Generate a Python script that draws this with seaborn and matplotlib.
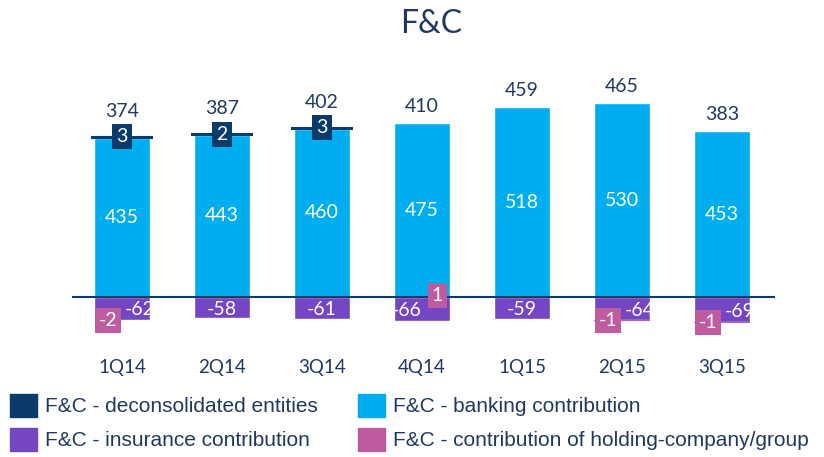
import matplotlib
matplotlib.use("Agg")
import matplotlib.pyplot as plt
from matplotlib.patches import Patch
import seaborn as sns
import numpy as np
import pandas as pd

# data
quarters = ['1Q14', '2Q14', '3Q14', '4Q14', '1Q15', '2Q15', '3Q15']
deconsolidated = [3, 2, 3, 0, 0, 0, 0]
banking = [435, 443, 460, 475, 518, 530, 453]
insurance = [-62, -58, -61, -66, -59, -64, -69]
holding = [-2, 0, 0, 1, 0, -1, -1]
totals = [374, 387, 402, 410, 459, 465, 383]

NAVY = '#0b3b6b'
CYAN = '#00aeef'
PURPLE = '#7446c3'
PINK = '#bf5b9f'
TXT = '#1f3864'

sns.set_theme(style="white")
plt.rcParams['font.family'] = ['Lato', 'DejaVu Sans']

df = pd.DataFrame({'quarter': quarters, 'banking': banking, 'insurance': insurance})

fig = plt.figure(figsize=(8.24, 4.57), dpi=100)
ax = fig.add_axes([72 / 824, 1 - 341 / 457, 703 / 824, (341 - 77.4) / 457])

sns.barplot(data=df, x='quarter', y='banking', color=CYAN, saturation=1, width=0.56, ax=ax)
sns.barplot(data=df, x='quarter', y='insurance', color=PURPLE, saturation=1, width=0.56, ax=ax)

x = np.arange(len(quarters))
dec = np.array(deconsolidated)
ax.bar(x[dec > 0], dec[dec > 0], bottom=np.array(banking)[dec > 0], width=0.6,
       color=NAVY, edgecolor=NAVY, linewidth=1.5)
hold = np.array(holding)
hold_bottom = np.where(hold < 0, np.array(insurance), 0)
ax.bar(x, hold, bottom=hold_bottom, width=0.56, color=PINK, linewidth=0)

ax.axhline(0, color=NAVY, lw=1.5)
ax.set_xlim(-0.5, 6.53)
ax.set_ylim(-120, 600)
ax.set_xlabel('')
ax.set_ylabel('')
ax.set_yticks([])
for s in ax.spines.values():
    s.set_visible(False)
ax.tick_params(axis='x', length=0, pad=13, labelsize=13.5, labelcolor=TXT)

FS = 14
for i in range(len(quarters)):
    # banking value inside the bar
    ax.text(i, banking[i] / 2, str(banking[i]), ha='center', va='center',
            color='white', fontsize=FS)
    # insurance value
    ins_dx = 0
    if holding[i] < 0:
        ins_dx = 13
    elif holding[i] > 0:
        ins_dx = -11
    ax.annotate(str(insurance[i]), (i, insurance[i] / 2), xytext=(ins_dx, -1),
                textcoords='offset points', ha='center', va='center',
                color='white', fontsize=FS)
    # deconsolidated box
    if deconsolidated[i]:
        ax.text(i, banking[i] + deconsolidated[i], str(deconsolidated[i]),
                ha='center', va='center', color='white', fontsize=FS,
                bbox=dict(boxstyle='square,pad=0.2', fc=NAVY, ec='none'))
    # holding box
    if holding[i]:
        h_dx = -10 if holding[i] < 0 else 11
        h_y = insurance[i] + holding[i] if holding[i] < 0 else 0
        h_dy = 1 if holding[i] > 0 else 0
        ax.annotate(str(holding[i]), (i, h_y), xytext=(h_dx, h_dy),
                    textcoords='offset points', ha='center', va='center',
                    color='white', fontsize=FS,
                    bbox=dict(boxstyle='square,pad=0.2', fc=PINK, ec='none'))
    # total above the bar
    top = banking[i] + deconsolidated[i]
    ax.annotate(str(totals[i]), (i, top), xytext=(0, 12 if deconsolidated[i] else 6),
                textcoords='offset points', ha='center', va='bottom',
                color=TXT, fontsize=FS)

fig.text(0.523, 0.948, 'F&C', ha='center', va='center', fontsize=23, color=TXT)

handles = [Patch(color=NAVY), Patch(color=PURPLE), Patch(color=CYAN), Patch(color=PINK)]
labels = ['F&C - deconsolidated entities', 'F&C - insurance contribution',
          'F&C - banking contribution', 'F&C - contribution of holding-company/group']
fig.legend(handles, labels, ncol=2, loc='upper left', bbox_to_anchor=(0.012, 0.138),
           frameon=False, handlelength=1.3, handleheight=1.3, handletextpad=0.4,
           columnspacing=1.9, labelspacing=0.55, borderpad=0, borderaxespad=0,
           prop={'family': 'Liberation Sans', 'size': 15}, labelcolor=TXT)

fig.savefig('out.png', dpi=100)
